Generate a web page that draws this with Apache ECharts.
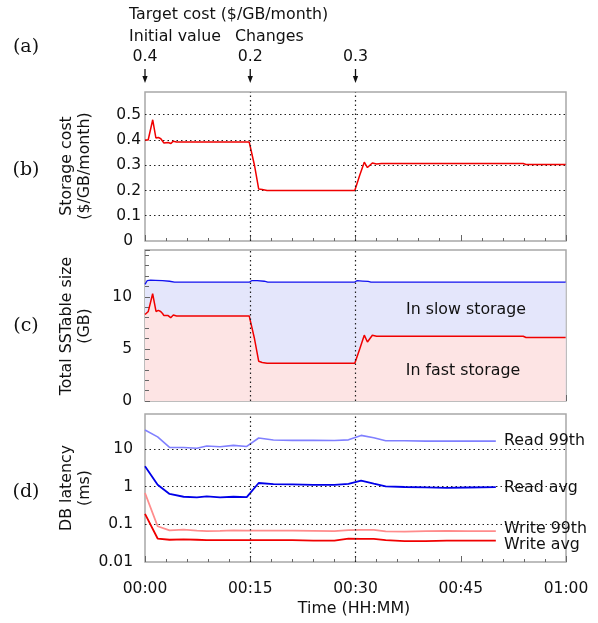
<!DOCTYPE html>
<html><head><meta charset="utf-8">
<script src="https://cdn.jsdelivr.net/npm/echarts@6/dist/echarts.min.js"></script>
<style>html,body{margin:0;padding:0;background:#fff}#c{width:598px;height:623px}</style>
</head><body><div id="c"></div>
<script>
// ---- data (minutes since start) ----
const changeTimes = [0, 15, 30];
const targetCosts = ['0.4', '0.2', '0.3'];
const xTickLabels = ['00:00', '00:15', '00:30', '00:45', '01:00'];

const costTime  = [0, 0.45, 1.1, 1.55, 1.9, 2.25, 2.5, 2.7, 3.3, 3.7, 4.0, 4.5, 14.85, 15.6, 16.2, 16.7, 17.4, 29.9, 30.6, 31.25, 31.7, 32.4, 33.0, 33.7, 53.9, 54.3, 59.95];
const costValue = [0.40, 0.40, 0.48, 0.408, 0.41, 0.405, 0.41, 0.388, 0.39, 0.386, 0.395, 0.392, 0.392, 0.30, 0.206, 0.204, 0.20, 0.20, 0.26, 0.312, 0.291, 0.309, 0.305, 0.307, 0.307, 0.303, 0.303];

const fastTime  = [0, 0.47, 1.09, 1.57, 1.9, 2.23, 2.5, 2.7, 3.3, 3.66, 4.04, 4.5, 14.85, 15.6, 16.2, 16.7, 17.4, 29.9, 30.6, 31.25, 31.7, 32.4, 33.0, 33.7, 53.9, 54.3, 59.95];
const fastValue = [8.3, 8.6, 10.3, 8.6, 8.7, 8.6, 8.4, 8.2, 8.2, 8.0, 8.25, 8.17, 8.17, 6.0, 3.82, 3.7, 3.63, 3.63, 5.0, 6.32, 5.67, 6.32, 6.22, 6.22, 6.22, 6.1, 6.1];

const totalTime  = [0, 0.3, 0.8, 1.5, 2.5, 3.5, 4.2, 14.9, 15.2, 16, 17, 17.5, 29.9, 30.2, 31, 31.8, 32.2, 59.95];
const totalValue = [11.2, 11.55, 11.6, 11.58, 11.55, 11.5, 11.42, 11.42, 11.55, 11.55, 11.5, 11.42, 11.42, 11.55, 11.52, 11.48, 11.42, 11.42];

const latTime  = [0, 1.8, 3.5, 5.5, 7.4, 8.8, 10.7, 12.6, 14.5, 16.2, 18.3, 21, 24, 27, 29, 30.8, 32.6, 34.3, 37, 40, 43, 46, 50];
const read99   = [32, 21, 11, 11, 10.5, 12, 11.5, 12.5, 11.7, 19.6, 17.3, 17, 17, 16.8, 17.5, 23, 20, 16.6, 16.5, 16.2, 16.2, 16.3, 16.2];
const readAvg  = [3.5, 1.13, 0.64, 0.54, 0.52, 0.55, 0.52, 0.54, 0.53, 1.25, 1.17, 1.15, 1.12, 1.12, 1.18, 1.45, 1.2, 1.02, 0.98, 0.96, 0.93, 0.95, 0.97];
const write99  = [0.68, 0.089, 0.069, 0.072, 0.068, 0.066, 0.067, 0.069, 0.068, 0.068, 0.068, 0.068, 0.067, 0.066, 0.07, 0.071, 0.071, 0.065, 0.064, 0.066, 0.067, 0.066, 0.066];
const writeAvg = [0.19, 0.042, 0.039, 0.040, 0.039, 0.038, 0.038, 0.038, 0.038, 0.038, 0.038, 0.038, 0.037, 0.037, 0.042, 0.041, 0.041, 0.038, 0.036, 0.036, 0.037, 0.037, 0.037];
const latNames = ['Read 99th', 'Read avg', 'Write 99th', 'Write avg'];

// ---- chart ----
const FONT = 'DejaVu Sans';
const TXT = '#111';
const TICKFS = 15.5;
const pairs = (t, v) => t.map((x, i) => [x, v[i]]);
const chart = echarts.init(document.getElementById('c'), null, {renderer: 'canvas'});

function mkX(idx, showLabels) {
  return {
    type: 'value', gridIndex: idx, min: 0, max: 60, interval: 15,
    axisLine: {show: false},
    axisTick: {show: true, inside: true, length: 6, lineStyle: {color: '#666'}},
    minorTick: {show: true, splitNumber: 5, length: 3, lineStyle: {color: '#666'}},
    splitLine: {show: false},
    axisLabel: {show: showLabels, fontFamily: FONT, fontSize: TICKFS, color: TXT, margin: 19,
      formatter: v => xTickLabels[Math.round(v / 15)]}
  };
}
const gridSplit = {show: true, showMinLine: false, showMaxLine: false, lineStyle: {type: [1.5, 3], color: '#222', width: 1}};
const vLines = {silent: true, symbol: 'none', label: {show: false},
  lineStyle: {type: [1.5, 3], color: '#222', width: 1.2},
  data: changeTimes.slice(1).map(t => ({xAxis: t}))};

const gridBase = {left: 145, right: 32, show: true, borderColor: '#a8a8a8', borderWidth: 1.5, backgroundColor: 'transparent'};

const option = {
  animation: false,
  backgroundColor: '#fff',
  grid: [
    Object.assign({top: 92, height: 149}, gridBase),
    Object.assign({top: 250, height: 151}, gridBase),
    Object.assign({top: 414, height: 148}, gridBase)
  ],
  xAxis: [mkX(0, false), mkX(1, false), mkX(2, true)],
  yAxis: [
    {type: 'value', gridIndex: 0, min: 0, max: 0.59, interval: 0.1,
      axisLine: {show: false}, axisTick: {show: false}, splitLine: gridSplit,
      axisLabel: {fontFamily: FONT, fontSize: TICKFS, color: TXT, margin: 4, showMaxLabel: false,
        formatter: v => v === 0 ? '{z|0}' : v.toFixed(1),
        rich: {z: {fontFamily: FONT, fontSize: TICKFS, color: TXT, padding: [0, 8, 0, 0]}}}},
    {type: 'value', gridIndex: 1, min: 0, max: 14.5, interval: 5, z: 3,
      axisLine: {show: false},
      axisTick: {show: true, inside: true, length: 5, lineStyle: {color: '#666'}},
      minorTick: {show: true, splitNumber: 5, length: 4, lineStyle: {color: '#666'}},
      splitLine: gridSplit,
      axisLabel: {fontFamily: FONT, fontSize: TICKFS, color: TXT, margin: 13, showMaxLabel: false}},
    {type: 'log', gridIndex: 2, min: 0.01, max: 85, logBase: 10,
      axisLine: {show: false}, axisTick: {show: false}, splitLine: gridSplit,
      axisLabel: {fontFamily: FONT, fontSize: TICKFS, color: TXT, margin: 12, showMaxLabel: false,
        formatter: v => String(+(+v).toPrecision(2))}}
  ],
  series: [
    {type: 'line', xAxisIndex: 0, yAxisIndex: 0, data: pairs(costTime, costValue), symbol: 'none',
      lineStyle: {color: '#f00000', width: 1.5}, markLine: vLines},
    {type: 'line', xAxisIndex: 1, yAxisIndex: 1, data: pairs(totalTime, totalValue), symbol: 'none',
      lineStyle: {color: '#1010f0', width: 1.3}, areaStyle: {color: '#e4e6fb', opacity: 1}},
    {type: 'line', xAxisIndex: 1, yAxisIndex: 1, data: pairs(fastTime, fastValue), symbol: 'none',
      lineStyle: {color: '#f00000', width: 1.5}, areaStyle: {color: '#fde4e4', opacity: 1}, markLine: vLines},
    {type: 'line', name: latNames[0], xAxisIndex: 2, yAxisIndex: 2, data: pairs(latTime, read99), symbol: 'none',
      lineStyle: {color: '#8080ff', width: 1.6}, markLine: vLines},
    {type: 'line', name: latNames[1], xAxisIndex: 2, yAxisIndex: 2, data: pairs(latTime, readAvg), symbol: 'none',
      lineStyle: {color: '#0000e8', width: 1.8}},
    {type: 'line', name: latNames[2], xAxisIndex: 2, yAxisIndex: 2, data: pairs(latTime, write99), symbol: 'none',
      lineStyle: {color: '#ff8c8c', width: 1.8}},
    {type: 'line', name: latNames[3], xAxisIndex: 2, yAxisIndex: 2, data: pairs(latTime, writeAvg), symbol: 'none',
      lineStyle: {color: '#f00000', width: 1.8}}
  ]
};
chart.setOption(option);

// ---- annotations ----
function txt(x, y, text, opts) {
  opts = opts || {};
  return {type: 'text', x: x, y: y, rotation: opts.rotation || 0, z: 100,
    style: {text: text, fontFamily: opts.family || FONT, fontSize: opts.size || 15.8, fill: TXT,
      align: opts.align || 'left', textAlign: opts.align || 'left',
      verticalAlign: 'middle', textVerticalAlign: 'middle', lineHeight: opts.lh || 18}};
}
const g = [];
g.push(txt(129, 15, 'Target cost ($/GB/month)'));
g.push(txt(129, 37, 'Initial value'));
g.push(txt(235, 37, 'Changes'));
changeTimes.forEach((t, i) => {
  const px = chart.convertToPixel({xAxisIndex: 0}, t);
  g.push(txt(px, 57, targetCosts[i], {align: 'center'}));
  g.push({type: 'line', z: 100, shape: {x1: px, y1: 69, x2: px, y2: 78}, style: {stroke: '#111', lineWidth: 1.3}});
  g.push({type: 'polygon', z: 100, shape: {points: [[px - 2.6, 76], [px + 2.6, 76], [px, 83]]}, style: {fill: '#111'}});
});
const SERIF = 'DejaVu Serif';
g.push(txt(26, 47, '(a)', {align: 'center', family: SERIF, size: 19}));
g.push(txt(26, 170, '(b)', {align: 'center', family: SERIF, size: 19}));
g.push(txt(26, 326, '(c)', {align: 'center', family: SERIF, size: 19}));
g.push(txt(26, 492, '(d)', {align: 'center', family: SERIF, size: 19}));
g.push(txt(75.5, 166, 'Storage cost\n($/GB/month)', {align: 'center', rotation: Math.PI / 2}));
g.push(txt(75.5, 326, 'Total SSTable size\n(GB)', {align: 'center', rotation: Math.PI / 2}));
g.push(txt(75.5, 488, 'DB latency\n(ms)', {align: 'center', rotation: Math.PI / 2}));
g.push(txt(466, 310, 'In slow storage', {align: 'center'}));
g.push(txt(463, 371, 'In fast storage', {align: 'center'}));
g.push(txt(504, 441, latNames[0]));
g.push(txt(504, 488, latNames[1]));
g.push(txt(504, 529, latNames[2]));
g.push(txt(504, 545, latNames[3]));
g.push(txt(354, 609, 'Time (HH:MM)', {align: 'center'}));
chart.setOption({graphic: {elements: g}});
</script>
</body></html>
